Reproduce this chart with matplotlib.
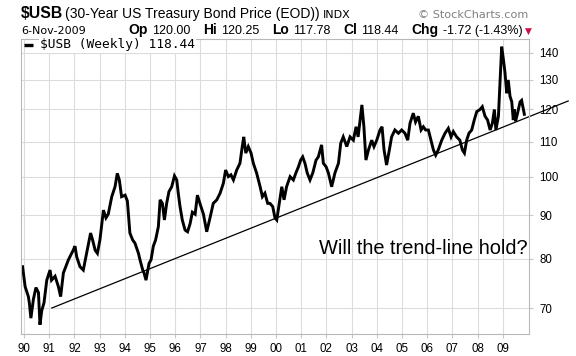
import matplotlib
matplotlib.use('Agg')
import matplotlib.pyplot as plt
from matplotlib.ticker import FixedLocator, NullLocator, FuncFormatter

# weekly $USB (decimal year, price)
years = [1989.94, 1990.04, 1990.17, 1990.21, 1990.27, 1990.37, 1990.47, 1990.57, 1990.63, 1990.70,
         1990.79, 1990.90, 1991.03, 1991.09, 1991.23, 1991.36, 1991.45, 1991.56, 1991.76, 1991.95,
         1992.02, 1992.09, 1992.22, 1992.35, 1992.48, 1992.64, 1992.72, 1992.82, 1992.91, 1993.01,
         1993.15, 1993.25, 1993.34, 1993.48, 1993.61, 1993.70, 1993.78, 1993.87, 1994.01, 1994.10,
         1994.20, 1994.31, 1994.40, 1994.54, 1994.60, 1994.71, 1994.76, 1994.84,
         1994.96, 1995.04, 1995.13, 1995.22, 1995.33, 1995.40, 1995.49, 1995.57, 1995.66, 1995.75,
         1995.86, 1995.97, 1996.06, 1996.12, 1996.19, 1996.28, 1996.39, 1996.49, 1996.59, 1996.68,
         1996.79, 1996.88, 1996.98, 1997.12, 1997.25, 1997.38, 1997.51, 1997.65, 1997.78, 1997.91,
         1998.00, 1998.11, 1998.21, 1998.31, 1998.44, 1998.57, 1998.66, 1998.72, 1998.80, 1998.90,
         1999.01, 1999.10, 1999.23, 1999.37, 1999.46, 1999.56, 1999.67, 1999.76, 1999.87,
         1999.96, 2000.03, 2000.13, 2000.23, 2000.32, 2000.42, 2000.56, 2000.69, 2000.79, 2000.89,
         2000.98, 2001.06, 2001.15, 2001.24, 2001.35, 2001.46, 2001.59, 2001.68, 2001.81, 2001.88,
         2001.99, 2002.08, 2002.21, 2002.34, 2002.48, 2002.57, 2002.67, 2002.81, 2002.94, 2003.07,
         2003.18, 2003.26, 2003.34, 2003.41, 2003.49, 2003.57, 2003.67, 2003.80, 2003.89, 2004.00,
         2004.13, 2004.21, 2004.29, 2004.39, 2004.50, 2004.59, 2004.72, 2004.86,
         2004.99, 2005.12, 2005.23, 2005.32, 2005.45, 2005.54, 2005.65, 2005.76, 2005.85, 2005.94,
         2006.05, 2006.15, 2006.25, 2006.34, 2006.44, 2006.58, 2006.71, 2006.84, 2006.95, 2007.04,
         2007.17, 2007.30, 2007.40, 2007.48, 2007.57, 2007.66, 2007.77, 2007.87, 2007.97, 2008.10,
         2008.19, 2008.30, 2008.40, 2008.50, 2008.59, 2008.67, 2008.73, 2008.83, 2008.89, 2008.96,
         2009.03, 2009.09, 2009.16, 2009.22, 2009.29, 2009.36, 2009.42, 2009.46, 2009.51, 2009.59,
         2009.69, 2009.75, 2009.82, 2009.86]
prices = [78.3, 74.2, 72.2, 70.9, 68.1, 71.7, 74.0, 73.0, 66.9, 69.5,
          71.0, 75.5, 77.6, 75.5, 76.3, 74.2, 72.2, 77.0, 79.8, 81.9,
          82.8, 80.4, 78.3, 77.6, 81.2, 85.8, 84.2, 81.9, 81.2, 84.2,
          91.3, 89.4, 90.3, 94.7, 97.3, 100.9, 99.1, 94.7, 95.1, 93.6,
          85.8, 84.2, 83.5, 81.2, 79.8, 77.6, 77.0, 75.5,
          79.0, 79.8, 82.8, 84.2, 87.3, 93.9, 93.0, 88.9, 93.0, 96.0,
          97.3, 100.2, 99.1, 95.6, 92.2, 88.9, 86.5, 86.1, 88.0, 90.8,
          90.3, 95.1, 93.0, 90.3, 86.1, 89.4, 93.0, 93.9, 95.6, 98.2,
          101.8, 100.0, 100.5, 99.1, 101.8, 103.7, 108.5, 111.4, 106.6, 108.5,
          106.6, 103.7, 101.0, 97.3, 94.7, 95.6, 93.0, 93.0, 92.2,
          89.4, 88.9, 93.0, 97.3, 93.9, 97.3, 100.0, 99.1, 101.0, 102.7,
          104.6, 105.5, 103.7, 101.0, 99.1, 101.0, 104.6, 105.5, 109.0, 103.7,
          102.7, 101.0, 97.3, 101.0, 103.7, 109.5, 111.4, 108.5, 111.4, 110.4,
          114.5, 111.4, 116.6, 121.5, 114.5, 104.6, 107.5, 110.4, 108.5, 110.4,
          113.5, 114.5, 107.5, 103.2, 107.5, 111.4, 113.5, 112.5,
          113.5, 112.5, 110.4, 115.6, 118.8, 116.0, 117.8, 113.5, 114.5, 113.5,
          113.5, 110.4, 107.5, 106.0, 107.5, 110.4, 112.5, 114.0, 111.4, 113.0,
          111.4, 110.4, 107.5, 106.6, 110.4, 112.5, 113.5, 116.6, 119.3, 120.0,
          120.9, 117.8, 116.6, 113.5, 115.6, 120.0, 113.5, 117.8, 128.9, 142.3,
          137.3, 132.7, 125.4, 130.0, 124.4, 122.5, 116.6, 120.0, 116.2, 118.8,
          122.5, 123.0, 120.0, 118.44]

trend_years = [1991.1, 2011.6]
trend_prices = [70.0, 122.8]

year_ticks = list(range(1990, 2010))
price_ticks = [70, 80, 90, 100, 110, 120, 130, 140]

quote_labels = ['Op', 'Hi', 'Lo', 'Cl', 'Chg']
quote_values = ['120.00', '120.25', '117.78', '118.44', '-1.72 (-1.43%)']

W, H = 576, 356
fig = plt.figure(figsize=(W / 100, H / 100), dpi=100)
fig.patch.set_facecolor('white')


def px(x, y):
    return x / W, 1 - y / H


ax = fig.add_axes([21 / W, 1 - 334.3 / H, 508.3 / W, 295.3 / H])
ax.set_yscale('log')
ax.set_xlim(1989.877, 2010.056)
ax.set_ylim(65.18, 145.3)

ax.grid(True, color='#dcdcdc', lw=0.8)
ax.set_axisbelow(True)
for s in ax.spines.values():
    s.set_color('#b8b8b8')
    s.set_linewidth(0.8)

ax.xaxis.set_major_locator(FixedLocator(year_ticks))
ax.xaxis.set_major_formatter(FuncFormatter(lambda v, p: '%02d' % (int(round(v)) % 100)))
ax.yaxis.set_major_locator(FixedLocator(price_ticks))
ax.yaxis.set_minor_locator(NullLocator())
ax.yaxis.set_major_formatter(FuncFormatter(lambda v, p: '%d' % round(v)))
ax.yaxis.tick_right()
ax.tick_params(axis='both', length=3, color='#c8c8c8', labelsize=8.3,
               labelfontfamily='Liberation Sans')
ax.tick_params(axis='x', pad=3)
ax.tick_params(axis='y', pad=4)

ax.plot(years, prices, color='black', lw=2.1, solid_joinstyle='miter')
ax.plot(trend_years, trend_prices, color='black', lw=0.9, clip_on=False)

ax.text(0.586, 0.292, 'Will the trend-line hold?', transform=ax.transAxes,
        fontsize=14.4, family='Liberation Sans', ha='left', va='center')

# legend row inside the plot
ax.plot([0.006, 0.0236], [0.98, 0.98], color='black', lw=2.4,
        transform=ax.transAxes, clip_on=False, solid_capstyle='butt')
ax.text(0.0374, 0.98, '$USB (Weekly) 118.44', transform=ax.transAxes,
        fontsize=9.3, family='DejaVu Sans Mono', ha='left', va='center',
        bbox=dict(facecolor='white', edgecolor='none', pad=1))

# header line 1
fig.text(*px(21, 18.3), '$USB', fontsize=11.3, weight='bold',
         family='Liberation Sans', va='baseline')
fig.text(*px(65, 18.3), '(30-Year US Treasury Bond Price (EOD))', fontsize=10,
         family='Liberation Sans', va='baseline')
fig.text(*px(322.7, 18.3), 'INDX', fontsize=8, family='DejaVu Sans', va='baseline')
fig.text(*px(528.7, 18.3), '\u00a9 StockCharts.com', fontsize=8.1, color='#808080',
         family='DejaVu Sans', ha='right', va='baseline')

# header line 2, pieces laid out one after another
fig.text(*px(21, 34), '6-Nov-2009', fontsize=8, family='DejaVu Sans', va='baseline')
renderer = fig.canvas.get_renderer()
x = 128.3
for lab, val in zip(quote_labels, quote_values):
    t = fig.text(*px(x, 34), lab, fontsize=10, weight='bold',
                 family='Liberation Sans', va='baseline')
    x += t.get_window_extent(renderer).width + 4
    t = fig.text(*px(x, 34), val, fontsize=9, family='Liberation Sans', va='baseline')
    x += t.get_window_extent(renderer).width + 13
fig.text(*px(x - 10, 34), '\u25bc', fontsize=6.5, color='#cc1144',
         family='DejaVu Sans', va='baseline')

fig.savefig('out.png', dpi=100, facecolor='white')
